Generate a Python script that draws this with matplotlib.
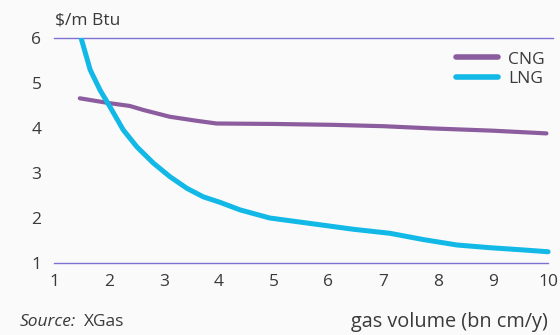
import matplotlib
matplotlib.use("Agg")
import matplotlib.pyplot as plt

# values
cng_x = [1.47, 2.02, 2.38, 2.63, 3.11, 3.6, 3.96, 5.0, 6.08, 7.0, 7.9, 9.0, 9.97]
cng_y = [4.66, 4.55, 4.49, 4.40, 4.25, 4.16, 4.10, 4.09, 4.07, 4.04, 3.99, 3.94, 3.88]
lng_x = [1.5, 1.66, 1.84, 2.02, 2.26, 2.51, 2.81, 3.11, 3.42, 3.72, 4.02,
         4.39, 4.93, 5.66, 6.45, 7.12, 7.73, 8.34, 8.94, 9.55, 10.0]
lng_y = [5.97, 5.29, 4.84, 4.47, 3.96, 3.58, 3.22, 2.92, 2.66, 2.47, 2.35,
         2.18, 2.0, 1.88, 1.75, 1.66, 1.52, 1.40, 1.34, 1.29, 1.25]
x_ticks = [1, 2, 3, 4, 5, 6, 7, 8, 9, 10]
y_ticks = [1, 2, 3, 4, 5, 6]

plt.rcParams['font.family'] = ['Open Sans', 'DejaVu Sans']
txt = "#3a3a3a"
bg = "#fafafa"

fig = plt.figure(figsize=(5.6, 3.35), dpi=100, facecolor=bg)
ax = fig.add_axes([54/560, 1-263/335, (553-54)/560, 225/335])
ax.set_facecolor(bg)

ax.plot(cng_x, cng_y, color="#8b5c9e", lw=3.0, solid_capstyle="round",
        solid_joinstyle="round", label="CNG")
ax.plot(lng_x, lng_y, color="#12b8e6", lw=3.6, solid_capstyle="round",
        solid_joinstyle="round", label="LNG")

ax.set_xlim(1, 1 + (553-54)/54.9)
ax.set_ylim(1, 6)
ax.set_xticks(x_ticks)
ax.set_yticks(y_ticks)
ax.axhline(6, color="#7d72d2", lw=1, zorder=0, clip_on=False)
ax.plot([1, 10.0], [1, 1], color="#7d72d2", lw=1, zorder=0, clip_on=False)
for s in ax.spines.values():
    s.set_visible(False)
ax.tick_params(length=0, labelsize=12.5, colors=txt)
ax.tick_params(axis="x", pad=8)
ax.tick_params(axis="y", pad=9)

leg = ax.legend(loc="upper right", bbox_to_anchor=(1.015, 1.01), frameon=False,
                fontsize=12.5, labelcolor=txt, handlelength=2.4, handletextpad=0.6,
                labelspacing=0.2)
for h in leg.legend_handles:
    h.set_linewidth(4)

fig.text(55/560, 1-20/335, "$/m Btu", fontsize=12.5, color=txt, va="center")
fig.text(20/560, 1-322/335, "Source:", fontsize=12.5, color=txt, style="italic", va="center")
fig.text(84/560, 1-322/335, "XGas", fontsize=12.5, color=txt, va="center")
fig.text(548/560, 1-322/335, "gas volume (bn cm/y)", fontsize=14.3, color=txt,
         va="center", ha="right")

fig.savefig("out.png", dpi=100, facecolor=bg)
